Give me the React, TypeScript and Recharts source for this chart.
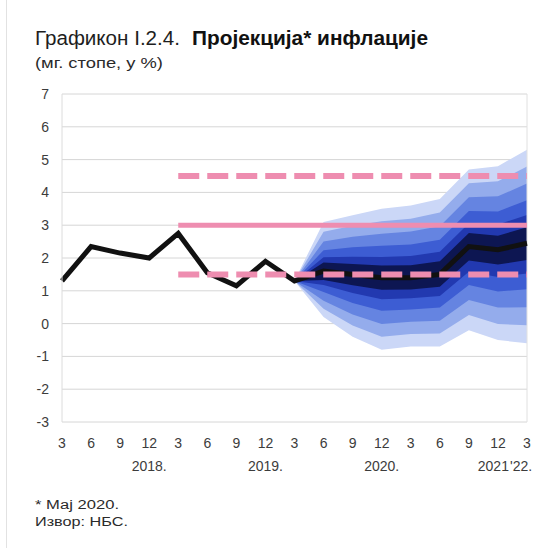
import React from 'react';
import { ComposedChart, Area, Line, XAxis, YAxis, CartesianGrid, ReferenceLine } from 'recharts';

const periods = [
  '2018-03', '2018-06', '2018-09', '2018-12',
  '2019-03', '2019-06', '2019-09', '2019-12',
  '2020-03', '2020-06', '2020-09', '2020-12',
  '2021-03', '2021-06', '2021-09', '2021-12',
  '2022-03',
];
const monthLabels = ['3', '6', '9', '12', '3', '6', '9', '12', '3', '6', '9', '12', '3', '6', '9', '12', '3'];
const yearLabels = ['', '', '', '2018.', '', '', '', '2019.', '', '', '', '2020.', '', '', '', '2021', "'22."];
const yTicks = [-3, -2, -1, 0, 1, 2, 3, 4, 5, 6, 7];

// actual inflation (to 3/2020) followed by the central projection
const inflation = [1.3, 2.35, 2.15, 2.0, 2.75, 1.55, 1.15, 1.9, 1.3, 1.6, 1.5, 1.4, 1.4, 1.5, 2.35, 2.25, 2.45];
const target = [null, null, null, null, 3, 3, 3, 3, 3, 3, 3, 3, 3, 3, 3, 3, 3];
const upperBound = [null, null, null, null, 4.5, 4.5, 4.5, 4.5, 4.5, 4.5, 4.5, 4.5, 4.5, 4.5, 4.5, 4.5, 4.5];
const lowerBound = [null, null, null, null, 1.5, 1.5, 1.5, 1.5, 1.5, 1.5, 1.5, 1.5, 1.5, 1.5, 1.5, 1.5, 1.5];

// fan bands, from the widest (lightest) to the narrowest (darkest)
const fan1Low = [null, null, null, null, null, null, null, null, 1.3, 0.2, -0.4, -0.8, -0.7, -0.7, -0.2, -0.5, -0.6];
const fan1High = [null, null, null, null, null, null, null, null, 1.3, 3.1, 3.3, 3.5, 3.6, 3.8, 4.7, 4.8, 5.3];
const fan2Low = [null, null, null, null, null, null, null, null, 1.3, 0.45, -0.06, -0.4, -0.32, -0.3, 0.26, -0.01, -0.05];
const fan2High = [null, null, null, null, null, null, null, null, 1.3, 2.8, 2.98, 3.12, 3.2, 3.39, 4.28, 4.34, 4.79];
const fan3Low = [null, null, null, null, null, null, null, null, 1.3, 0.7, 0.28, -0.01, 0.06, 0.09, 0.72, 0.49, 0.5];
const fan3High = [null, null, null, null, null, null, null, null, 1.3, 2.5, 2.65, 2.74, 2.81, 2.97, 3.85, 3.88, 4.27];
const fan4Low = [null, null, null, null, null, null, null, null, 1.3, 0.96, 0.63, 0.39, 0.43, 0.49, 1.18, 0.98, 1.05];
const fan4High = [null, null, null, null, null, null, null, null, 1.3, 2.24, 2.33, 2.37, 2.41, 2.56, 3.43, 3.42, 3.76];
const fan5Low = [null, null, null, null, null, null, null, null, 1.3, 1.18, 0.93, 0.74, 0.77, 0.84, 1.58, 1.42, 1.53];
const fan5High = [null, null, null, null, null, null, null, null, 1.3, 2.02, 2.04, 2.03, 2.06, 2.19, 3.06, 3.02, 3.31];
const fan6Low = [null, null, null, null, null, null, null, null, 1.3, 1.33, 1.17, 1.03, 1.04, 1.12, 1.92, 1.8, 1.94];
const fan6High = [null, null, null, null, null, null, null, null, 1.3, 1.86, 1.82, 1.77, 1.78, 1.9, 2.76, 2.68, 2.94];

const fanLows = [fan1Low, fan2Low, fan3Low, fan4Low, fan5Low, fan6Low];
const fanHighs = [fan1High, fan2High, fan3High, fan4High, fan5High, fan6High];
const fanColors = ['#cbd7f7', '#94acec', '#6584e1', '#3d5dd3', '#2239b0', '#0d1652'];

const data = periods.map((p, i) => {
  const row: any = {
    period: p,
    inflation: inflation[i],
    target: target[i],
    upperBound: upperBound[i],
    lowerBound: lowerBound[i],
  };
  fanLows.forEach((low, k) => {
    const lo = low[i];
    const hi = fanHighs[k][i];
    row['fan' + (k + 1)] = lo == null || hi == null ? null : [lo, hi];
  });
  return row;
});

const FONT = '"Liberation Sans", Arial, sans-serif';
const PINK = '#ee8db0';

const XTick = (props: any) => {
  const { x, y, payload } = props;
  const i = periods.indexOf(payload.value);
  const yl = yearLabels[i];
  let anchor: 'middle' | 'end' | 'start' = 'middle';
  let dx = 0;
  if (i === 15) {
    anchor = 'end';
    dx = 11;
  } else if (i === 16) {
    anchor = 'start';
    dx = -17;
  }
  return (
    <g>
      <text x={x} y={y + 26} textAnchor="middle" fontSize={14} fill="#3c3c3c" fontFamily={FONT}>
        {monthLabels[i]}
      </text>
      {yl ? (
        <text x={x + dx} y={y + 49} textAnchor={anchor} fontSize={14} fill="#3c3c3c" fontFamily={FONT}>
          {yl}
        </text>
      ) : null}
    </g>
  );
};

export default function App() {
  return (
    <div style={{ position: 'absolute', left: 0, top: 0, width: 560, height: 548, background: '#fff' }}>
      <ComposedChart
        width={560}
        height={548}
        data={data}
        margin={{ top: 94, right: 33, bottom: 86, left: 0 }}
      >
        <CartesianGrid vertical={false} stroke="#d6d6d6" />
        <XAxis
          dataKey="period"
          type="category"
          interval={0}
          height={40}
          tickLine={false}
          axisLine={false}
          tickSize={0}
          tickMargin={0}
          tick={<XTick />}
        />
        <YAxis
          type="number"
          domain={[-3, 7]}
          ticks={yTicks}
          width={62}
          tickLine={false}
          tickSize={0}
          tickMargin={13}
          axisLine={{ stroke: '#dcdcdc' }}
          tick={{ fill: '#3c3c3c', fontSize: 14, fontFamily: FONT }}
        />
        <ReferenceLine x="2022-03" stroke="#e0e0e0" ifOverflow="visible" />
        {fanColors.map((c, k) => (
          <Area
            key={'fan' + k}
            type="linear"
            dataKey={'fan' + (k + 1)}
            stroke="none"
            fill={c}
            fillOpacity={1}
            isAnimationActive={false}
            dot={false}
            activeDot={false}
          />
        ))}
        <Line
          type="linear"
          dataKey="inflation"
          stroke="#111111"
          strokeWidth={5}
          strokeLinejoin="miter"
          dot={false}
          activeDot={false}
          isAnimationActive={false}
        />
        <Line
          type="linear"
          dataKey="target"
          stroke={PINK}
          strokeWidth={5}
          dot={false}
          activeDot={false}
          isAnimationActive={false}
        />
        <Line
          type="linear"
          dataKey="upperBound"
          stroke={PINK}
          strokeWidth={6}
          strokeDasharray="21 8"
          dot={false}
          activeDot={false}
          isAnimationActive={false}
        />
        <Line
          type="linear"
          dataKey="lowerBound"
          stroke={PINK}
          strokeWidth={6}
          strokeDasharray="21 8"
          dot={false}
          activeDot={false}
          isAnimationActive={false}
        />
      </ComposedChart>
      <svg
        width={560}
        height={548}
        style={{ position: 'absolute', left: 0, top: 0, pointerEvents: 'none' }}
      >
        <line x1={6.5} y1={0} x2={6.5} y2={548} stroke="#e2e2e2" />
        <text x={35} y={44.5} fontSize={20} fontFamily={FONT} fill="#1e1e1e" textLength={145} lengthAdjust="spacingAndGlyphs">
          Графикон I.2.4.
        </text>
        <text x={192} y={44.5} fontSize={20} fontWeight="bold" fontFamily={FONT} fill="#111" textLength={236} lengthAdjust="spacingAndGlyphs">
          Пројекција* инфлације
        </text>
        <text x={35} y={67.5} fontSize={15} fontFamily={FONT} fill="#2a2a2a" textLength={128} lengthAdjust="spacingAndGlyphs">
          (мг. стопе, у %)
        </text>
        <text x={35} y={509} fontSize={12.5} fontFamily={FONT} fill="#2a2a2a" textLength={84} lengthAdjust="spacingAndGlyphs">
          * Мај 2020.
        </text>
        <text x={35} y={526} fontSize={12.5} fontFamily={FONT} fill="#2a2a2a" textLength={93} lengthAdjust="spacingAndGlyphs">
          Извор: НБС.
        </text>
      </svg>
    </div>
  );
}
